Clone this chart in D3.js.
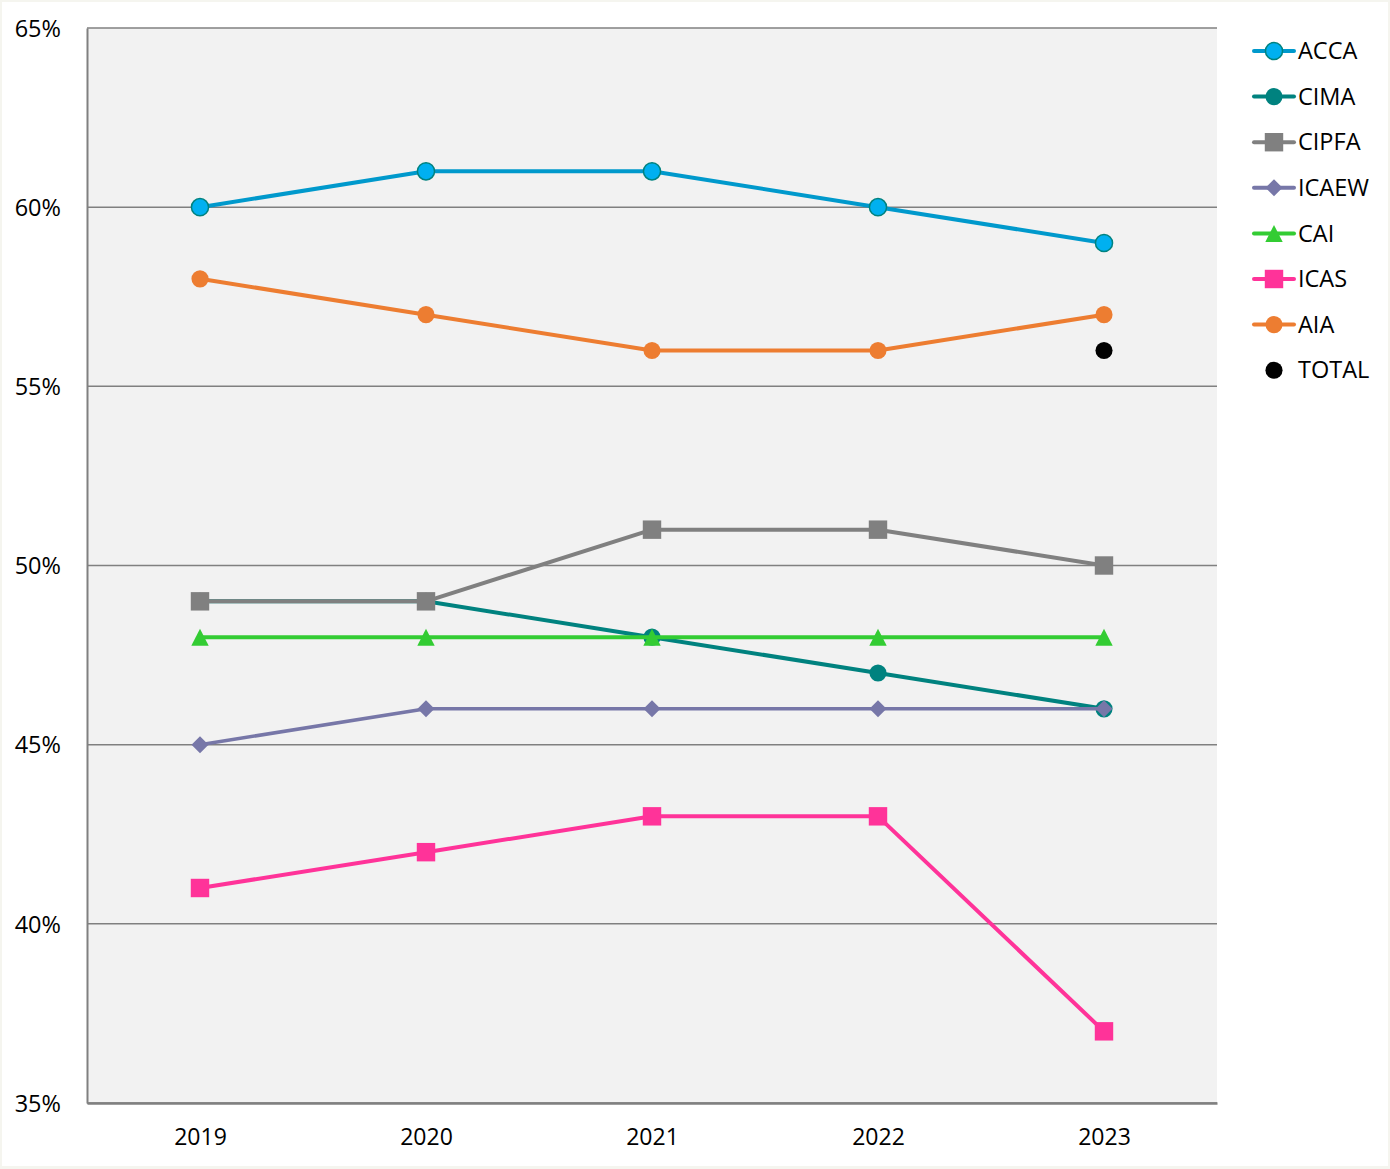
<!DOCTYPE html>
<html>
<head>
<meta charset="utf-8">
<script src="https://cdn.jsdelivr.net/npm/d3@7"></script>
<style>
  html, body { margin: 0; padding: 0; background: #f5f5ef; }
  #chart { position: absolute; left: 2px; top: 2px; width: 1386px; height: 1164px; background: #fff; }
  text { font-family: "Open Sans", "Noto Sans", sans-serif; fill: #000; }
</style>
</head>
<body>
<div id="chart"></div>
<script>
var years = ["2019", "2020", "2021", "2022", "2023"];
var yTicks = [35, 40, 45, 50, 55, 60, 65];

var acca  = [60, 61, 61, 60, 59];
var cima  = [49, 49, 48, 47, 46];
var cipfa = [49, 49, 51, 51, 50];
var icaew = [45, 46, 46, 46, 46];
var cai   = [48, 48, 48, 48, 48];
var icas  = [41, 42, 43, 43, 37];
var aia   = [58, 57, 56, 56, 57];
var total = [null, null, null, null, 56];

var series = [
    { name: "ACCA",  values: acca,  line: "#0099cc", fill: "#00b0f0", stroke: "#00827f", shape: "circle" },
    { name: "CIMA",  values: cima,  line: "#00827f", fill: "#00827f", shape: "circle" },
    { name: "CIPFA", values: cipfa, line: "#808080", fill: "#808080", shape: "square" },
    { name: "ICAEW", values: icaew, line: "#7777a8", fill: "#7777a8", shape: "diamond" },
    { name: "CAI",   values: cai,   line: "#33cc33", fill: "#33cc33", shape: "triangle" },
    { name: "ICAS",  values: icas,  line: "#ff3399", fill: "#ff3399", shape: "square" },
    { name: "AIA",   values: aia,   line: "#ed7d31", fill: "#ed7d31", shape: "circle" },
    { name: "TOTAL", values: total, line: null,      fill: "#000000", shape: "circle" }
];

var width = 1386, height = 1164;
var margin = { left: 85, top: 26, right: 171, bottom: 63 };
var plotW = width - margin.left - margin.right;
var plotH = height - margin.top - margin.bottom;

var svg = d3.select("#chart").append("svg")
    .attr("width", width)
    .attr("height", height);

var x = d3.scalePoint().domain(years).range([0, plotW]).padding(0.5);
var y = d3.scaleLinear().domain([35, 65]).range([plotH, 0]);

var g = svg.append("g").attr("transform", "translate(" + margin.left + "," + margin.top + ")");

g.append("rect")
    .attr("width", plotW)
    .attr("height", plotH)
    .attr("fill", "#f2f2f2");

// gridlines
g.selectAll(".grid")
    .data(yTicks)
    .enter()
    .append("line")
    .attr("x1", 0)
    .attr("x2", plotW)
    .attr("y1", function (d) { return y(d); })
    .attr("y2", function (d) { return y(d); })
    .attr("stroke", "#808080")
    .attr("stroke-width", 1.5);

// y axis
var yAxis = g.append("g")
    .call(d3.axisLeft(y).tickValues(yTicks).tickSize(0).tickPadding(26)
        .tickFormat(function (d) { return d + "%"; }));
yAxis.select(".domain").attr("stroke", "#808080").attr("stroke-width", 2);
yAxis.selectAll("text").style("font-size", "23.5px").attr("dy", "0.35em");

// x axis
var xAxis = g.append("g")
    .attr("transform", "translate(0," + plotH + ")")
    .call(d3.axisBottom(x).tickSize(0).tickPadding(26));
xAxis.select(".domain").attr("stroke", "#808080").attr("stroke-width", 2.5);
xAxis.selectAll("text").style("font-size", "23px");

// marker shapes
function markerPath(shape) {
    if (shape === "circle") return d3.symbol().type(d3.symbolCircle).size(230)();
    if (shape === "square") return d3.symbol().type(d3.symbolSquare).size(340)();
    if (shape === "diamond") return "M0,-8.5L8.5,0L0,8.5L-8.5,0Z";
    return "M0,-8.5L8.7,8.5L-8.7,8.5Z";
}

var line = d3.line()
    .defined(function (d) { return d != null; })
    .x(function (d, i) { return x(years[i]); })
    .y(function (d) { return y(d); });

series.forEach(function (s) {
    var sg = g.append("g");
    if (s.line) {
        sg.append("path")
            .datum(s.values)
            .attr("d", line)
            .attr("fill", "none")
            .attr("stroke", s.line)
            .attr("stroke-width", s.shape === "diamond" ? 3.5 : 4)
            .attr("stroke-linejoin", "round");
    }
    sg.selectAll(".pt")
        .data(s.values.map(function (v, i) { return { v: v, i: i }; })
            .filter(function (d) { return d.v != null; }))
        .enter()
        .append("path")
        .attr("d", markerPath(s.shape))
        .attr("transform", function (d) {
            return "translate(" + x(years[d.i]) + "," + y(d.v) + ")";
        })
        .attr("fill", s.fill)
        .attr("stroke", s.stroke || "none")
        .attr("stroke-width", s.stroke ? 1.5 : 0);
});

// legend
var legend = svg.append("g").attr("transform", "translate(1250,49)");
var rows = legend.selectAll(".row")
    .data(series)
    .enter()
    .append("g")
    .attr("transform", function (d, i) { return "translate(0," + (i * 45.6) + ")"; });

rows.filter(function (d) { return d.line; })
    .append("line")
    .attr("x1", 2)
    .attr("x2", 42)
    .attr("stroke", function (d) { return d.line; })
    .attr("stroke-width", 4)
    .attr("stroke-linecap", "round");

rows.append("path")
    .attr("d", function (d) { return markerPath(d.shape); })
    .attr("transform", "translate(22,0)")
    .attr("fill", function (d) { return d.fill; })
    .attr("stroke", function (d) { return d.stroke || "none"; })
    .attr("stroke-width", function (d) { return d.stroke ? 1.5 : 0; });

rows.append("text")
    .attr("x", 46)
    .attr("dy", "0.35em")
    .style("font-size", "23.5px")
    .text(function (d) { return d.name; });
</script>
</body>
</html>
